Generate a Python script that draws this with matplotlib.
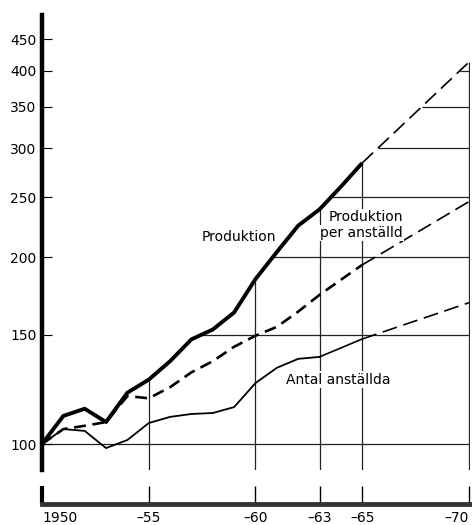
import numpy as np
import matplotlib
matplotlib.use('Agg')
import matplotlib.pyplot as plt

# data (index, 1950 = 100, log scale)
years = [1950, 1951, 1952, 1953, 1954, 1955, 1956, 1957, 1958, 1959,
         1960, 1961, 1962, 1963, 1964, 1965]
produktion = [100, 111, 114, 108.5, 121, 127, 136, 147.5, 153, 163,
              184.5, 204, 225, 239, 260, 284]
per_anstalld = [100, 105.7, 107, 108.5, 119.5, 118.5, 123.5, 130.5, 136, 143.5,
                149.5, 154.5, 163.5, 174, 184, 194.5]
antal_years = years[:14]
antal = [100, 105.7, 105, 98.5, 101.5, 108.1, 110.6, 111.8, 112.2, 114.7,
         125.4, 132.7, 137.2, 138.2]

# projections (dashed)
prog_years = [1965, 1970]
prod_prog = [284, 413]
per_prog = [194.5, 246]
antal_prog_years = [1963, 1965, 1970]
antal_prog = [138.2, 147.7, 169]

ytick_vals = [100, 150, 200, 250, 300, 350, 400, 450]
grid_vals = [100, 150, 200, 250, 300, 350, 400]
vline_years = [1955, 1960, 1963, 1965, 1970]
xtick_years = [1950, 1955, 1960, 1963, 1965, 1970]
xtick_labels = ['1950', '\u201355', '\u201360', '\u201363', '\u201365', '\u201370']

fig = plt.figure(figsize=(4.72, 5.25), dpi=100)
ax = fig.add_axes([42/472, 1-470/525, 428/472, 455/525])
ylo, yhi = 90.8, 492
ax.set_yscale('log')
ax.set_ylim(ylo, yhi)
ax.set_xlim(1950, 1970.05)

all_years = years + [1970]
all_prod = produktion + [prod_prog[-1]]
# horizontal lines start at the Produktion curve
for v in grid_vals:
    if v == 100:
        x0 = 1950
    else:
        x0 = np.interp(np.log(v), np.log(all_prod), all_years)
    ax.hlines(v, x0, 1970, color='#222222', lw=0.9, zorder=1)
# vertical lines hang down from the Produktion curve
for yr in vline_years:
    top = np.interp(yr, all_years, all_prod)
    ax.vlines(yr, ylo, top, color='#222222', lw=0.9, zorder=1)

ax.plot(years, produktion, color='black', lw=2.8, solid_capstyle='butt', zorder=3)
ax.plot(prog_years, prod_prog, color='black', lw=1.2, dashes=(9, 4), zorder=3)
ax.plot(years, per_anstalld, color='black', lw=1.9, dashes=(4.5, 2.5), zorder=3)
ax.plot(prog_years, per_prog, color='black', lw=1.2, dashes=(9, 4), zorder=3)
ax.plot(antal_years, antal, color='black', lw=1.3, zorder=3)
ax.plot(antal_prog_years[1:], antal_prog[1:], color='black', lw=1.2, dashes=(9, 4), zorder=3)
ax.plot(antal_prog_years[:2], antal_prog[:2], color='black', lw=1.2, zorder=3)

box = dict(facecolor='white', edgecolor='none', pad=1)
ax.text(1959.2, 216, 'Produktion', fontsize=10, ha='center', va='center', bbox=box, zorder=4)
ax.text(1966.9, 232, 'Produktion', fontsize=10, ha='right', va='center', bbox=box, zorder=4)
ax.text(1966.9, 219, 'per anställd', fontsize=10, ha='right', va='center', bbox=box, zorder=4)
ax.text(1963.9, 127, 'Antal anställda', fontsize=10, ha='center', va='center', bbox=box, zorder=4)

ax.set_yticks(ytick_vals)
ax.set_yticklabels([str(v) for v in ytick_vals], fontsize=10)
ax.minorticks_off()
ax.tick_params(axis='y', direction='in', length=7, width=0.8, pad=4)
ax.set_xticks([])
for s in ['top', 'right', 'bottom']:
    ax.spines[s].set_visible(False)
ax.spines['left'].set_linewidth(3.2)

# separate time bar at the bottom
bx = fig.add_axes([42/472, 1-504/525, 428/472, 20/525])
bx.set_xlim(1950, 1970.05)
bx.set_ylim(0, 1)
bx.set_yticks([])
for s in ['top', 'right', 'left']:
    bx.spines[s].set_visible(False)
bx.spines['bottom'].set_linewidth(3.5)
bx.spines['bottom'].set_color('#333333')
bx.set_xticks(xtick_years)
bx.set_xticklabels(xtick_labels, fontsize=10)
bx.tick_params(axis='x', direction='in', length=13, width=1.0, pad=5)
bx.get_xticklabels()[0].set_ha('left')
bx.get_xticklabels()[-1].set_ha('right')
bx.xaxis.get_major_ticks()[0].tick1line.set_markeredgewidth(3)

fig.savefig('out.png', dpi=100)
